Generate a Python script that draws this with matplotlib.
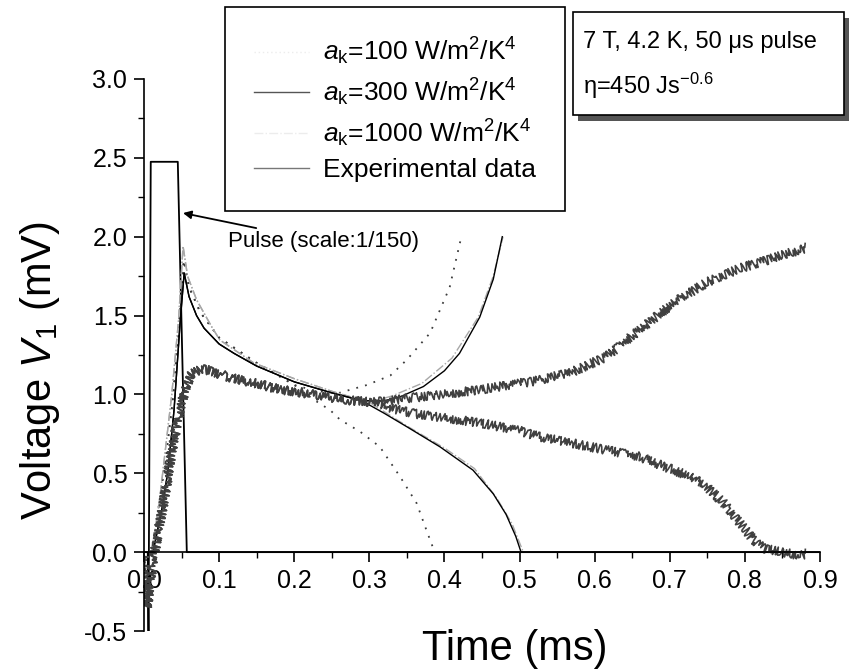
import matplotlib
matplotlib.use('Agg')
import matplotlib.pyplot as plt
from matplotlib.lines import Line2D
from matplotlib.patches import Rectangle

plt.rcParams['font.family'] = ['Liberation Sans', 'DejaVu Sans']
plt.rcParams['mathtext.fontset'] = 'custom'
plt.rcParams['mathtext.rm'] = 'Liberation Sans'
plt.rcParams['mathtext.it'] = 'Liberation Sans:italic'

# pulse (scaled 1/150)
pulse_t = [0.0, 0.005, 0.006, 0.009, 0.045, 0.057, 0.9]
pulse_v = [0.0, 0.0, -0.5, 2.475, 2.475, 0.0, 0.0]

# experimental data: common start, then the rising and falling runs
exp_t = [0.0, 0.004, 0.008, 0.012, 0.0146, 0.02, 0.028, 0.037, 0.046, 0.055,
         0.0635, 0.075, 0.09, 0.1, 0.12, 0.15, 0.181, 0.2, 0.25, 0.27, 0.3]
exp_v = [0.0, -0.35, -0.2, -0.05, 0.01, 0.15, 0.37, 0.63, 0.86, 1.04,
         1.13, 1.16, 1.15, 1.13, 1.10, 1.07, 1.03, 1.02, 0.98, 0.965, 0.95]
exp_up_t = [0.33, 0.358, 0.4, 0.447, 0.5, 0.527, 0.571, 0.616, 0.66, 0.705,
            0.749, 0.794, 0.838, 0.882]
exp_up_v = [0.96, 0.98, 1.0, 1.03, 1.07, 1.09, 1.144, 1.24, 1.41, 1.58,
            1.71, 1.80, 1.865, 1.93]
exp_dn_t = [0.33, 0.358, 0.4, 0.447, 0.5, 0.527, 0.571, 0.616, 0.66, 0.705,
            0.727, 0.749, 0.772, 0.794, 0.812, 0.825, 0.847, 0.874, 0.882]
exp_dn_v = [0.91, 0.88, 0.85, 0.82, 0.77, 0.73, 0.69, 0.647, 0.605, 0.52,
            0.48, 0.415, 0.31, 0.18, 0.076, 0.025, 0.0, -0.02, -0.01]

# a_k = 100 (dotted)
a100_t = [0.01, 0.02, 0.029, 0.038, 0.046, 0.053, 0.06, 0.075, 0.1, 0.15, 0.2]
a100_v = [0.0, 0.3, 0.6, 0.95, 1.4, 1.85, 1.68, 1.52, 1.36, 1.2, 1.06]
a100_up_t = [0.23, 0.26, 0.297, 0.328, 0.35, 0.381, 0.407, 0.423]
a100_up_v = [1.02, 1.01, 1.06, 1.12, 1.22, 1.39, 1.68, 2.01]
a100_dn_t = [0.225, 0.248, 0.261, 0.288, 0.314, 0.341, 0.363, 0.376, 0.387]
a100_dn_v = [0.97, 0.9, 0.84, 0.763, 0.668, 0.478, 0.31, 0.14, 0.0]

# a_k = 300 (solid)
a300_t = [0.012, 0.025, 0.032, 0.04, 0.048, 0.0535, 0.06, 0.07, 0.08, 0.1,
          0.12, 0.15, 0.2, 0.25, 0.29]
a300_v = [0.0, 0.3, 0.52, 0.9, 1.45, 1.77, 1.62, 1.50, 1.42, 1.32,
          1.26, 1.18, 1.08, 1.01, 0.96]
a300_up_t = [0.32, 0.341, 0.372, 0.4, 0.42, 0.447, 0.465, 0.477]
a300_up_v = [0.96, 0.985, 1.05, 1.15, 1.26, 1.49, 1.73, 2.0]
a300_dn_t = [0.32, 0.35, 0.394, 0.438, 0.465, 0.482, 0.495, 0.502]
a300_dn_v = [0.88, 0.795, 0.668, 0.52, 0.37, 0.24, 0.1, 0.0]

# a_k = 1000 (light dash-dot)
a1000_t = [0.01, 0.02, 0.028, 0.037, 0.046, 0.052, 0.058, 0.07, 0.09, 0.101,
           0.146, 0.2, 0.25, 0.3]
a1000_v = [0.0, 0.3, 0.63, 1.0, 1.47, 1.94, 1.75, 1.6, 1.43, 1.345,
           1.2, 1.1, 1.02, 0.95]
a1000_up_t = [0.33, 0.37, 0.41, 0.445, 0.465, 0.478]
a1000_up_v = [0.99, 1.07, 1.23, 1.49, 1.75, 2.0]
a1000_dn_t = [0.35, 0.4, 0.44, 0.47, 0.49, 0.505]
a1000_dn_v = [0.80, 0.66, 0.53, 0.34, 0.18, 0.0]

labels = ['$\\mathit{a}_\\mathregular{k}$=100 W/m$^\\mathregular{2}$/K$^\\mathregular{4}$',
          '$\\mathit{a}_\\mathregular{k}$=300 W/m$^\\mathregular{2}$/K$^\\mathregular{4}$',
          '$\\mathit{a}_\\mathregular{k}$=1000 W/m$^\\mathregular{2}$/K$^\\mathregular{4}$',
          'Experimental data']

fig = plt.figure(figsize=(8.5, 6.7), dpi=100)
ax = fig.add_axes([0.1694, 0.0582, 0.7953, 0.8239])

# pulse
ax.plot(pulse_t, pulse_v, color='black', lw=1.3)

# simulations
dotted = dict(color='#3c3c3c', lw=1.3, linestyle=(0, (1, 4)))
solid = dict(color='black', lw=1.0)
light = dict(color='#a8a8a8', lw=1.0, linestyle='-.')
for base_t, base_v, br, style in [
        (a100_t, a100_v, [(a100_up_t, a100_up_v), (a100_dn_t, a100_dn_v)], dotted),
        (a1000_t, a1000_v, [(a1000_up_t, a1000_up_v), (a1000_dn_t, a1000_dn_v)], light),
        (a300_t, a300_v, [(a300_up_t, a300_up_v), (a300_dn_t, a300_dn_v)], solid)]:
    for bt, bv in br:
        ax.plot(base_t + bt, base_v + bv, **style)

# experimental curves, jagged like the noisy trace
for bt, bv in [(exp_up_t, exp_up_v), (exp_dn_t, exp_dn_v)]:
    line, = ax.plot(exp_t + bt, exp_v + bv, color='#404040', lw=1.2)
    line.set_sketch_params(scale=4.5, length=2.5, randomness=3)

ax.set_xlim(0, 0.9)
ax.set_ylim(-0.5, 3.0)
ax.spines['top'].set_visible(False)
ax.spines['right'].set_visible(False)
ax.spines['bottom'].set_position(('data', 0))
for s in ('left', 'bottom'):
    ax.spines[s].set_linewidth(1.2)
ax.set_xticks([0.1 * i for i in range(10)])
ax.set_xticks([0.05 + 0.1 * i for i in range(9)], minor=True)
ax.set_yticks([-0.5 + 0.5 * i for i in range(8)])
ax.set_yticks([-0.25 + 0.5 * i for i in range(7)], minor=True)
ax.xaxis.set_major_formatter(matplotlib.ticker.FormatStrFormatter('%.1f'))
ax.yaxis.set_major_formatter(matplotlib.ticker.FormatStrFormatter('%.1f'))
ax.tick_params(which='major', direction='out', length=7, width=1.2, labelsize=18, pad=5)
ax.tick_params(which='minor', direction='out', length=4, width=1.0)

ax.set_xlabel('Time (ms)', fontsize=30)
ax.xaxis.label.set_va('center')
ax.xaxis.set_label_coords(0.549, -0.033)
ax.set_ylabel('Voltage $\\mathit{V}_\\mathregular{1}$ (mV)', fontsize=30)
ax.yaxis.label.set_va('center')
ax.yaxis.set_label_coords(-0.154, 0.471)

ax.annotate('Pulse (scale:1/150)', xy=(0.052, 2.15), xytext=(0.112, 1.967),
            fontsize=16, ha='left', va='center',
            arrowprops=dict(arrowstyle='-|>', color='black', lw=1.3,
                            mutation_scale=12, shrinkA=2, shrinkB=0))

handles = [Line2D([], [], color='#ececec', lw=1.0, linestyle=(0, (1, 2))),
           Line2D([], [], color='#555555', lw=1.0),
           Line2D([], [], color='#ececec', lw=1.0, linestyle='-.'),
           Line2D([], [], color='#777777', lw=1.0)]
leg = ax.legend(handles, labels, loc='upper left',
                bbox_to_anchor=(225 / 850, 1 - 7 / 670),
                bbox_transform=fig.transFigure, borderaxespad=0,
                fontsize=19, frameon=True, fancybox=False, framealpha=1,
                edgecolor='black', borderpad=1.1, labelspacing=0.35,
                handlelength=2.1, handletextpad=0.5)
leg.get_frame().set_linewidth(1.2)

# condition box with drop shadow
fig.patches.append(Rectangle((578 / 850, 1 - 121 / 670), 271 / 850, 103 / 670,
                             transform=fig.transFigure, facecolor='#555555',
                             edgecolor='none'))
fig.patches.append(Rectangle((573 / 850, 1 - 115 / 670), 271 / 850, 103 / 670,
                             transform=fig.transFigure, facecolor='white',
                             edgecolor='black', lw=1.2))
fig.text(583 / 850, 1 - 42 / 670, '7 T, 4.2 K, 50 \u03bcs pulse', fontsize=17,
         ha='left', va='center')
fig.text(583 / 850, 1 - 86 / 670, '\u03b7=450 Js$^\\mathregular{-0.6}$', fontsize=17,
         ha='left', va='center')

fig.savefig('out.png', dpi=100)
